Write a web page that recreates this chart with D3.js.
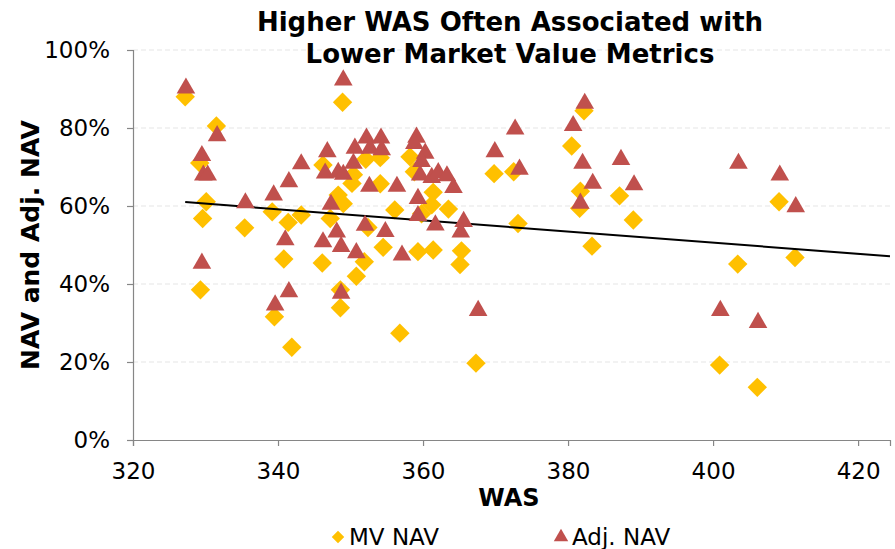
<!DOCTYPE html>
<html>
<head>
<meta charset="utf-8">
<script src="https://cdn.jsdelivr.net/npm/d3@7"></script>
<style>
  html, body { margin: 0; padding: 0; background: #fff; }
  svg { display: block; font-family: "DejaVu Sans", Verdana, sans-serif; }
</style>
</head>
<body>
<svg id="chart" width="895" height="549"></svg>
<script>
// MV NAV points: [WAS, percent]
const mvNav = [
  [327.2, 88.0], [331.5, 80.5], [329.2, 71.0], [330.1, 61.1], [329.6, 56.8],
  [329.3, 38.5], [335.4, 54.4], [339.2, 58.5], [339.5, 31.6], [341.4, 55.8],
  [340.8, 46.4], [341.9, 23.8], [343.2, 57.7], [346.2, 70.5], [346.1, 45.4],
  [347.2, 56.8], [348.3, 62.8], [349.0, 60.6], [348.9, 86.6], [350.4, 68.0],
  [350.2, 65.8], [352.1, 72.0], [354.1, 72.4], [354.1, 65.7], [352.4, 54.5],
  [354.5, 49.4], [351.9, 45.7], [350.8, 42.0], [348.6, 38.5], [348.6, 33.9],
  [356.1, 59.0], [356.8, 27.4], [358.2, 72.6], [358.8, 68.8], [361.4, 63.5],
  [361.2, 60.3], [359.8, 58.0], [363.5, 59.2], [359.3, 48.3], [361.4, 48.7],
  [365.3, 48.5], [365.1, 45.0], [367.3, 19.7], [369.8, 68.3], [372.5, 68.8],
  [373.1, 55.5], [382.2, 84.4], [380.5, 75.4], [381.7, 63.8], [381.6, 59.4],
  [383.3, 49.7], [387.1, 62.6], [389.0, 56.4], [400.9, 19.2], [403.4, 45.1],
  [406.1, 13.5], [409.1, 61.1], [411.3, 46.8]
];

// Adj. NAV points: [WAS, percent]
const adjNav = [
  [327.3, 90.2], [331.6, 78.0], [329.5, 72.9], [329.7, 67.9], [330.3, 67.9],
  [329.5, 45.3], [335.5, 60.8], [339.4, 62.8], [339.6, 34.6], [341.5, 66.2],
  [341.0, 51.3], [341.5, 38.0], [343.2, 70.8], [346.8, 73.9], [346.5, 68.4],
  [348.3, 68.6], [349.0, 68.1], [347.3, 60.4], [349.0, 92.3], [350.6, 74.8],
  [352.2, 77.4], [354.2, 77.4], [352.7, 74.8], [354.3, 74.4], [350.4, 70.9],
  [352.6, 65.0], [356.4, 65.0], [352.0, 55.0], [354.8, 53.4], [348.1, 53.3],
  [346.2, 50.8], [348.7, 49.6], [350.8, 48.0], [348.7, 37.6], [357.1, 47.4],
  [359.1, 77.6], [358.8, 76.0], [360.3, 73.5], [359.8, 71.4], [359.6, 67.9],
  [361.2, 67.3], [362.1, 68.5], [363.3, 67.7], [364.2, 64.7], [359.3, 61.9],
  [359.3, 57.5], [361.7, 55.1], [365.6, 56.0], [365.2, 53.3], [367.6, 33.2],
  [369.9, 73.9], [372.7, 79.7], [373.3, 69.4], [380.7, 80.6], [382.3, 86.3],
  [382.0, 70.9], [383.4, 65.8], [381.7, 60.7], [387.3, 71.9], [389.1, 65.4],
  [401.0, 33.2], [403.5, 70.9], [406.2, 30.1], [409.2, 67.9], [411.4, 59.8]
];

// Linear trendline endpoints: [WAS, percent]
const trendLine = [[327.2, 61.0], [424.4, 47.1]];

const xTicks = [320, 340, 360, 380, 400, 420];
const yTicks = [0, 20, 40, 60, 80, 100];
const titleLines = ["Higher WAS Often Associated with", "Lower Market Value Metrics"];
const seriesNames = ["MV NAV", "Adj. NAV"];

const svg = d3.select("#chart");
const plot = { left: 133, right: 890, top: 50, bottom: 440 };

const x = d3.scaleLinear().domain([320, 424.4]).range([plot.left, plot.right]);
const y = d3.scaleLinear().domain([0, 100]).range([plot.bottom, plot.top]);

const colMV = "#FFC000", colAdj = "#C0504D", axisCol = "#868686";

// horizontal dashed gridlines
svg.append("g").selectAll("line").data(yTicks.filter(d => d > 0)).join("line")
  .attr("x1", plot.left).attr("x2", plot.right)
  .attr("y1", d => y(d)).attr("y2", d => y(d))
  .attr("stroke", "#e6e6e6").attr("stroke-width", 1.2)
  .attr("stroke-dasharray", "5,3");

// y axis
const yAxis = svg.append("g").attr("transform", `translate(${plot.left},0)`)
  .call(d3.axisLeft(y).tickValues(yTicks).tickFormat(d => d + "%").tickSizeOuter(0).tickSize(6).tickPadding(17));
// x axis
const xAxis = svg.append("g").attr("transform", `translate(0,${plot.bottom})`)
  .call(d3.axisBottom(x).tickValues(xTicks).tickSizeOuter(0).tickSize(6).tickPadding(17));

[yAxis, xAxis].forEach(a => {
  a.select(".domain").attr("stroke", axisCol).attr("stroke-width", 1.2);
  a.selectAll(".tick line").attr("stroke", axisCol).attr("stroke-width", 1.2);
  a.selectAll("text").attr("fill", "#000").style("font-size", "23px")
    .style("font-family", '"DejaVu Sans", Verdana, sans-serif');
});

const diamond = d3.symbol().type(d3.symbolDiamond2).size(240);
const triangle = d3.symbol().type(d3.symbolTriangle).size(150);

// MV NAV diamonds
svg.append("g").selectAll("path").data(mvNav).join("path")
  .attr("d", diamond)
  .attr("transform", d => `translate(${x(d[0])},${y(d[1])})`)
  .attr("fill", colMV);

// trendline
svg.append("path").datum(trendLine)
  .attr("d", d3.line().x(d => x(d[0])).y(d => y(d[1])))
  .attr("stroke", "#000").attr("stroke-width", 2).attr("fill", "none");

// Adj. NAV triangles
svg.append("g").selectAll("path").data(adjNav).join("path")
  .attr("d", triangle)
  .attr("transform", d => `translate(${x(d[0])},${y(d[1])})`)
  .attr("fill", colAdj);

// title
svg.append("text").attr("x", 510).attr("text-anchor", "middle")
  .style("font-weight", "bold").style("font-size", "26px")
  .selectAll("tspan").data(titleLines).join("tspan")
  .attr("x", 510).attr("y", (d, i) => 31 + i * 32).text(d => d);

// axis titles
svg.append("text").attr("x", 509).attr("y", 506).attr("text-anchor", "middle")
  .style("font-weight", "bold").style("font-size", "24px").text("WAS");
svg.append("text").attr("transform", "translate(39,245) rotate(-90)").attr("text-anchor", "middle")
  .style("font-weight", "bold").style("font-size", "25px").text("NAV and Adj. NAV");

// legend
const legend = svg.append("g");
const legendItems = [
  { name: seriesNames[0], x: 338, sym: d3.symbol().type(d3.symbolDiamond2).size(100), col: colMV },
  { name: seriesNames[1], x: 561, sym: d3.symbol().type(d3.symbolTriangle).size(90), col: colAdj }
];
legendItems.forEach(it => {
  legend.append("path").attr("d", it.sym()).attr("transform", `translate(${it.x},537)`).attr("fill", it.col);
  legend.append("text").attr("x", it.x + 11).attr("y", 545).style("font-size", "23px").text(it.name);
});
</script>
</body>
</html>
